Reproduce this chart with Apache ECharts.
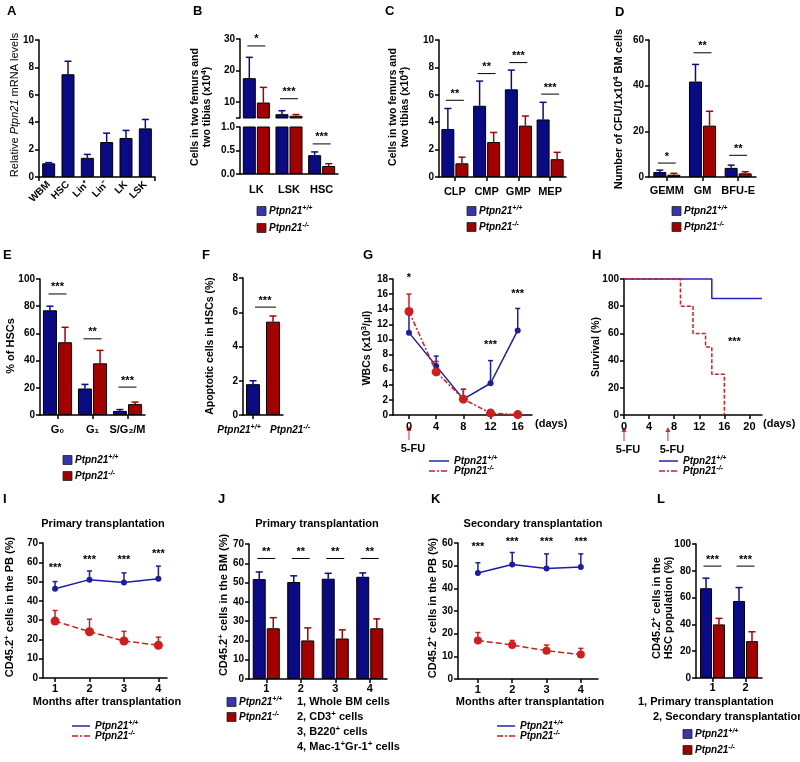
<!DOCTYPE html>
<html>
<head>
<meta charset="utf-8">
<title>Ptpn21 figure</title>
<script src="https://cdn.jsdelivr.net/npm/echarts@6/dist/echarts.min.js"></script>
<style>
  html, body { margin: 0; padding: 0; background: #fff; }
  #main { width: 800px; height: 762px; }
</style>
</head>
<body>
<div id="main"></div>
<script>
// ---------- values ----------
// A
const aCats = ['WBM', 'HSC', 'Lin⁺', 'Lin⁻', 'LK', 'LSK'];
const aMean = [1.0, 7.5, 1.4, 2.55, 2.85, 3.55];
const aSem = [0.05, 0.95, 0.25, 0.65, 0.55, 0.65];
// B (broken axis)
const bCats = ['LK', 'LSK', 'HSC'];
const bWt = [17.6, 6.2, 0.40];
const bWtSem = [6.6, 1.1, 0.07];
const bKo = [9.9, 5.7, 0.17];
const bKoSem = [4.8, 0.4, 0.05];
const bSigY = [27.8, 11.1, 0.64];
const bStars = ['*', '***', '***'];
// C
const cCats = ['CLP', 'CMP', 'GMP', 'MEP'];
const cWt = [3.5, 5.2, 6.4, 4.2];
const cWtSem = [1.5, 1.8, 1.4, 1.25];
const cKo = [1.0, 2.55, 3.75, 1.3];
const cKoSem = [0.45, 0.7, 0.7, 0.5];
const cSigY = [5.6, 7.55, 8.35, 6.05];
const cStars = ['**', '**', '***', '***'];
// D
const dCats = ['GEMM', 'GM', 'BFU-E'];
const dWt = [2.2, 41.8, 4.0];
const dWtSem = [0.8, 7.5, 1.2];
const dKo = [1.0, 22.5, 1.6];
const dKoSem = [0.6, 6.3, 0.7];
const dSigY = [6.1, 54.4, 9.5];
const dStars = ['*', '**', '**'];
// E
const eCats = ['G₀', 'G₁', 'S/G₂/M'];
const eWt = [77, 19.5, 3];
const eWtSem = [3, 3, 1];
const eKo = [53.5, 38, 8];
const eKoSem = [11, 9.5, 1.5];
const eSigY = [89, 56, 20.5];
const eStars = ['***', '**', '***'];
// F
const fCats = ['Ptpn21+/+', 'Ptpn21-/-'];
const fVals = [1.8, 5.45];
const fSem = [0.2, 0.33];
const fSigY = 6.3;
// G
const gDays = [0, 4, 8, 12, 16];
const gWt = [10.9, 6.5, 2.1, 4.2, 11.2];
const gWtSem = [2.5, 1.3, 1.3, 3.0, 2.9];
const gKo = [13.7, 5.7, 2.1, 0.25, 0.05];
const gKoSem = [2.3, 1.4, 1.3, 0.1, 0.05];
const gStarX = [0, 12, 16];
const gStarY = [17.3, 8.4, 15.2];
const gStars = ['*', '***', '***'];
const gFuDays = [0];
// H
const hWtDays = [0, 14, 22];
const hWtSurv = [100, 85.7, 85.7];
const hKoDays = [0, 9, 11, 13, 14, 16];
const hKoSurv = [100, 80, 60, 50, 30, 0];
const hFuDays = [0, 7];
// I
const iMonths = [1, 2, 3, 4];
const iWt = [46.3, 51, 49.5, 51.5];
const iWtSem = [3.7, 4.5, 5, 6.5];
const iKo = [29.5, 24, 19.2, 17];
const iKoSem = [5.5, 6.5, 5, 4.2];
const iStarY = [53.5, 58, 58, 61];
// J
const jCats = ['1', '2', '3', '4'];
const jWt = [51.8, 50.3, 52, 53];
const jWtSem = [3.7, 3.2, 2.8, 2];
const jKo = [26.3, 20, 21, 26.3];
const jKoSem = [5.5, 6.5, 4.5, 4.9];
const jSigY = [62.5, 62.5, 62.5, 62.5];
const jStars = ['**', '**', '**', '**'];
// K
const kMonths = [1, 2, 3, 4];
const kWt = [46.8, 50.5, 48.8, 49.4];
const kWtSem = [4.5, 5.3, 6.4, 5.8];
const kKo = [17, 15, 12.5, 10.8];
const kKoSem = [3.5, 2, 2.5, 2.7];
const kStarY = [55.5, 57.5, 57.5, 57.5];
// L
const lCats = ['1', '2'];
const lWt = [67, 57.5];
const lWtSem = [7.5, 10];
const lKo = [40, 27.5];
const lKoSem = [4.5, 7];
const lSigY = [83.5, 83.5];
const lStars = ['***', '***'];

// ---------- look ----------
const FONT = '"Liberation Sans", Arial, sans-serif';
const BAR_BLUE = '#0a0a85', BAR_RED = '#a50000';
const KEY_BLUE = '#3636aa', KEY_RED = '#a00000';
const LN_BLUE = '#1c1ca4', LN_RED = '#d01e1e';
const ARROW = '#d42a2a';
const WT_TXT = '{i|Ptpn21}{s|+/+}';
const KO_TXT = '{i|Ptpn21}{s|-/-}';

const grid = [], xAxis = [], yAxis = [], series = [], graphic = [];

function mkRich(size, weight) {
  weight = weight || 'bold';
  const sm = Math.round(size * 0.72);
  const base = {fontFamily: FONT, fontWeight: weight, color: '#000', fill: '#000'};
  return {
    n: Object.assign({}, base, {fontSize: size}),
    i: Object.assign({}, base, {fontSize: size, fontStyle: 'italic'}),
    s: Object.assign({}, base, {fontSize: sm, fontStyle: 'italic', padding: [0, 0, Math.round(size * 0.6), 0]}),
    p: Object.assign({}, base, {fontSize: sm, padding: [0, 0, Math.round(size * 0.6), 0]})
  };
}

function tick(extra) { return Object.assign({show: true, length: 4, lineStyle: {color: '#000', width: 1.5}}, extra || {}); }
function axLine() { return {show: true, onZero: false, lineStyle: {color: '#000', width: 1.5}}; }
function lbl(size, extra) { return Object.assign({color: '#000', fontWeight: 'bold', fontSize: size, fontFamily: FONT, margin: 5}, extra || {}); }

function valAxis(min, max, interval, extra) {
  const ax = {type: 'value', min: min, max: max, axisLine: axLine(), axisTick: tick(), axisLabel: lbl(10), splitLine: {show: false}};
  if (interval) ax.interval = interval;
  return Object.assign(ax, extra || {});
}
function catAxis(cats, extra) {
  return Object.assign({type: 'category', data: cats, axisLine: axLine(), axisTick: tick({alignWithLabel: true}),
    axisLabel: lbl(11, {margin: 8, interval: 0}), splitLine: {show: false}}, extra || {});
}
function panel(rect, xa, ya) {
  const gi = grid.length;
  grid.push({left: rect[0], top: rect[1], width: rect[2], height: rect[3]});
  xa.gridIndex = gi; ya.gridIndex = gi;
  xAxis.push(xa); yAxis.push(ya);
  return gi;
}
const idx = arr => arr.map((_, i) => i);

function barStyle(c) { return {color: c, borderColor: '#000', borderWidth: 1}; }
function pairBars(g, wt, ko, bw) {
  series.push({type: 'bar', xAxisIndex: g, yAxisIndex: g, data: wt, barWidth: bw, barGap: '8%', itemStyle: barStyle(BAR_BLUE)});
  series.push({type: 'bar', xAxisIndex: g, yAxisIndex: g, data: ko, barWidth: bw, barGap: '8%', itemStyle: barStyle(BAR_RED)});
  return bw * 1.08 / 2; // distance of each bar centre from the category centre
}

// upper error bars, drawn through the axes of grid g
function errs(g, xs, ys, sems, dx, color, cap) {
  series.push({
    type: 'custom', xAxisIndex: g, yAxisIndex: g, clip: true, silent: true, z: 3,
    data: ys.map((y, i) => [xs[i], y, sems[i]]),
    renderItem: (p, api) => {
      const a = api.coord([api.value(0), api.value(1)]);
      const b = api.coord([api.value(0), api.value(1) + api.value(2)]);
      const x = a[0] + dx;
      const st = {stroke: color, lineWidth: 1.5};
      return {type: 'group', children: [
        {type: 'line', shape: {x1: x, y1: a[1], x2: x, y2: b[1]}, style: st},
        {type: 'line', shape: {x1: x - cap / 2, y1: b[1], x2: x + cap / 2, y2: b[1]}, style: st}
      ]};
    }
  });
}

// significance bar + stars (half = 0 -> stars only)
function sig(g, xs, ys, stars, half) {
  series.push({
    type: 'custom', xAxisIndex: g, yAxisIndex: g, silent: true, z: 4,
    data: ys.map((y, i) => [xs[i], y]),
    renderItem: (p, api) => {
      const c = api.coord([api.value(0), api.value(1)]);
      const kids = [];
      if (half) kids.push({type: 'line', shape: {x1: c[0] - half, y1: c[1], x2: c[0] + half, y2: c[1]}, style: {stroke: '#000', lineWidth: 1}});
      kids.push({type: 'text', x: c[0], y: c[1] - 1, style: {text: stars[p.dataIndex], fill: '#000', fontSize: 11, fontWeight: 'bold', fontFamily: FONT,
        align: 'center', textAlign: 'center', verticalAlign: 'bottom', textVerticalAlign: 'bottom'}});
      return {type: 'group', children: kids};
    }
  });
}

function lineSeries(g, xs, ys, color, dash, size, z) {
  series.push({type: 'line', xAxisIndex: g, yAxisIndex: g, clip: false, z: z,
    data: xs.map((x, i) => [x, ys[i]]), symbol: 'circle', symbolSize: size,
    itemStyle: {color: color}, lineStyle: {color: color, width: 1.5, type: dash}});
}

// ---------- text helpers (titles, keys, notes) ----------
function addText(x, y, str, size, o) {
  o = o || {};
  graphic.push({
    type: 'text', x: x, y: y, rotation: o.rot || 0, silent: true, z: 10,
    style: {
      text: str, fill: '#000', fontSize: size, fontWeight: o.weight || 'bold', fontFamily: FONT,
      align: o.align || 'left', textAlign: o.align || 'left',
      verticalAlign: 'middle', textVerticalAlign: 'middle',
      lineHeight: o.lh || size + 2,
      rich: mkRich(size, o.weight)
    }
  });
}
function vText(x, y, str, size, o) { addText(x, y, str, size, Object.assign({rot: Math.PI / 2, align: 'center'}, o || {})); }
function keyBox(x, y, color, str) {
  graphic.push({type: 'rect', silent: true, shape: {x: x, y: y - 4.5, width: 9, height: 9}, style: {fill: color, stroke: '#222', lineWidth: 0.8}});
  addText(x + 12, y, str, 10);
}
function keyLine(x1, x2, y, color, dash, str) {
  graphic.push({type: 'line', silent: true, shape: {x1: x1, y1: y, x2: x2, y2: y}, style: {stroke: color, lineWidth: 1.5, lineDash: dash}});
  addText(x2 + 5, y, str, 10);
}
function arrow(x, yTop, yBot) {
  graphic.push({type: 'line', silent: true, shape: {x1: x, y1: yBot, x2: x, y2: yTop + 4}, style: {stroke: ARROW, lineWidth: 1}});
  graphic.push({type: 'polygon', silent: true, shape: {points: [[x, yTop], [x - 2.5, yTop + 5], [x + 2.5, yTop + 5]]}, style: {fill: ARROW}});
}

// ---------- A ----------
let g = panel([39, 40, 116, 137],
  catAxis(aCats, {axisLabel: lbl(10, {rotate: 45, margin: 6, interval: 0}), axisTick: tick({alignWithLabel: false, interval: i => i === 3})}),
  valAxis(0, 10, 2));
series.push({type: 'bar', xAxisIndex: g, yAxisIndex: g, data: aMean, barWidth: 13, itemStyle: barStyle(BAR_BLUE)});
errs(g, idx(aMean), aMean, aSem, 0, BAR_BLUE, 7);

// ---------- B : upper segment ----------
g = panel([240, 39, 98, 79], catAxis(bCats, {show: false}),
  valAxis(5, 30, null, {axisLabel: lbl(10, {customValues: [10, 20, 30]}), axisTick: tick({customValues: [5, 10, 20, 30]})}));
let off = pairBars(g, bWt, bKo, 13);
errs(g, idx(bWt), bWt, bWtSem, -off, BAR_BLUE, 7);
errs(g, idx(bKo), bKo, bKoSem, off, BAR_RED, 7);
sig(g, [0, 1], bSigY.slice(0, 2), bStars, 9);
// B : lower segment
g = panel([240, 127, 98, 47], catAxis(bCats, {axisTick: {show: false}, axisLabel: lbl(11, {margin: 10, interval: 0})}),
  valAxis(0, 1, 0.5, {axisLabel: lbl(10, {formatter: v => v.toFixed(1)})}));
off = pairBars(g, bWt, bKo, 13);
errs(g, idx(bWt), bWt, bWtSem, -off, BAR_BLUE, 7);
errs(g, idx(bKo), bKo, bKoSem, off, BAR_RED, 7);
sig(g, [2], bSigY.slice(2), bStars.slice(2), 9);

// ---------- C ----------
g = panel([439, 40, 127, 137], catAxis(cCats, {axisLabel: lbl(11, {margin: 9, interval: 0})}), valAxis(0, 10, 2));
off = pairBars(g, cWt, cKo, 13);
errs(g, idx(cWt), cWt, cWtSem, -off, BAR_BLUE, 7);
errs(g, idx(cKo), cKo, cKoSem, off, BAR_RED, 7);
sig(g, idx(cSigY), cSigY, cStars, 9);

// ---------- D ----------
g = panel([649, 40, 107, 137], catAxis(dCats, {axisLabel: lbl(11, {margin: 8, interval: 0})}), valAxis(0, 60, 20));
off = pairBars(g, dWt, dKo, 13);
errs(g, idx(dWt), dWt, dWtSem, -off, BAR_BLUE, 7);
errs(g, idx(dKo), dKo, dKoSem, off, BAR_RED, 7);
sig(g, idx(dSigY), dSigY, dStars, 9);

// ---------- E ----------
g = panel([40, 279, 105, 136], catAxis(eCats, {axisLabel: lbl(11, {margin: 9, interval: 0})}), valAxis(0, 100, 20));
off = pairBars(g, eWt, eKo, 14);
errs(g, idx(eWt), eWt, eWtSem, -off, BAR_BLUE, 7);
errs(g, idx(eKo), eKo, eKoSem, off, BAR_RED, 7);
sig(g, idx(eSigY), eSigY, eStars, 9);

// ---------- F ----------
g = panel([243, 278, 40, 137], catAxis(fCats, {axisLabel: {show: false}}), valAxis(0, 8, 2));
series.push({type: 'bar', xAxisIndex: g, yAxisIndex: g, barWidth: 14,
  data: fVals.map((v, i) => ({value: v, itemStyle: barStyle(i ? BAR_RED : BAR_BLUE)}))});
errs(g, [0], fVals.slice(0, 1), fSem.slice(0, 1), 0, BAR_BLUE, 7);
errs(g, [1], fVals.slice(1), fSem.slice(1), 0, BAR_RED, 7);
series.push({type: 'custom', xAxisIndex: g, yAxisIndex: g, silent: true, z: 4, data: [[0, fSigY]],
  renderItem: (p, api) => {
    const a = api.coord([0, api.value(1)]), b = api.coord([1, api.value(1)]);
    return {type: 'group', children: [
      {type: 'line', shape: {x1: a[0] + 2, y1: a[1], x2: b[0] + 3, y2: b[1]}, style: {stroke: '#000', lineWidth: 1}},
      {type: 'text', x: (a[0] + b[0]) / 2 + 2, y: a[1] - 1, style: {text: '***', fill: '#000', fontSize: 11, fontWeight: 'bold', fontFamily: FONT,
        align: 'center', textAlign: 'center', verticalAlign: 'bottom', textVerticalAlign: 'bottom'}}
    ]};
  }});

// ---------- G ----------
const gTicks = [0, 4, 8, 12, 16];
g = panel([393, 279, 139, 136],
  valAxis(-2.35, 18.1, null, {axisLabel: lbl(11, {customValues: gTicks, margin: 6}), axisTick: tick({customValues: gTicks})}),
  valAxis(0, 18, 2));
errs(g, gDays, gWt, gWtSem, 0, LN_BLUE, 5);
errs(g, gDays, gKo, gKoSem, 0, LN_RED, 5);
lineSeries(g, gDays, gWt, LN_BLUE, 'solid', 6, 5);
lineSeries(g, gDays, gKo, LN_RED, [5, 2, 2, 2], 9, 6);
sig(g, gStarX, gStarY, gStars, 0);
const gG = g;

// ---------- H ----------
const hTicks = [0, 4, 8, 12, 16, 20];
g = panel([624, 279, 138, 136],
  valAxis(0, 22, null, {axisLabel: lbl(11, {customValues: hTicks, margin: 6}), axisTick: tick({customValues: hTicks})}),
  valAxis(0, 100, 20));
series.push({type: 'line', xAxisIndex: g, yAxisIndex: g, step: 'end', symbol: 'none', clip: false,
  data: hWtDays.map((d, i) => [d, hWtSurv[i]]), lineStyle: {color: '#2323c8', width: 1.5}});
series.push({type: 'line', xAxisIndex: g, yAxisIndex: g, step: 'end', symbol: 'none', clip: false,
  data: hKoDays.map((d, i) => [d, hKoSurv[i]]), lineStyle: {color: LN_RED, width: 1.5, type: [4, 2]}});
sig(g, [17.6], [49], ['***'], 0);
const gH = g;

// ---------- I ----------
const mTicks = [1, 2, 3, 4];
g = panel([43, 543, 124, 135],
  valAxis(0.65, 4.25, null, {axisLabel: lbl(11, {customValues: mTicks, margin: 5}), axisTick: tick({customValues: mTicks})}),
  valAxis(0, 70, 10));
errs(g, iMonths, iWt, iWtSem, 0, LN_BLUE, 5);
errs(g, iMonths, iKo, iKoSem, 0, LN_RED, 5);
lineSeries(g, iMonths, iWt, LN_BLUE, 'solid', 6, 5);
lineSeries(g, iMonths, iKo, LN_RED, [6, 3], 9, 6);
sig(g, iMonths, iStarY, ['***', '***', '***', '***'], 0);

// ---------- J ----------
g = panel([249, 544, 138, 135], catAxis(jCats, {axisLabel: lbl(11, {margin: 4, interval: 0})}), valAxis(0, 70, 10));
off = pairBars(g, jWt, jKo, 13);
errs(g, idx(jWt), jWt, jWtSem, -off, BAR_BLUE, 7);
errs(g, idx(jKo), jKo, jKoSem, off, BAR_RED, 7);
sig(g, idx(jSigY), jSigY, jStars, 9);

// ---------- K ----------
g = panel([458, 543, 140, 136],
  valAxis(0.42, 4.5, null, {axisLabel: lbl(11, {customValues: mTicks, margin: 5}), axisTick: tick({customValues: mTicks})}),
  valAxis(0, 60, 10));
errs(g, kMonths, kWt, kWtSem, 0, LN_BLUE, 5);
errs(g, kMonths, kKo, kKoSem, 0, LN_RED, 5);
lineSeries(g, kMonths, kWt, LN_BLUE, 'solid', 6, 5);
lineSeries(g, kMonths, kKo, LN_RED, [6, 3], 8, 6);
sig(g, kMonths, kStarY, ['***', '***', '***', '***'], 0);

// ---------- L ----------
g = panel([696, 544, 66, 134], catAxis(lCats, {axisLabel: lbl(11, {margin: 4, interval: 0})}), valAxis(0, 100, 20));
off = pairBars(g, lWt, lKo, 12);
errs(g, idx(lWt), lWt, lWtSem, -off, BAR_BLUE, 7);
errs(g, idx(lKo), lKo, lKoSem, off, BAR_RED, 7);
sig(g, idx(lSigY), lSigY, lStars, 9);

// ---------- chart ----------
const chart = echarts.init(document.getElementById('main'));
chart.setOption({animation: false, backgroundColor: '#fff', grid: grid, xAxis: xAxis, yAxis: yAxis, series: series});

// panel letters
[['A', 7, 11], ['B', 193, 11], ['C', 385, 11], ['D', 615, 12], ['E', 3, 255], ['F', 202, 255],
 ['G', 363, 255], ['H', 592, 255], ['I', 3, 499], ['J', 218, 499], ['K', 431, 499], ['L', 657, 499]]
  .forEach(t => addText(t[1], t[2], t[0], 13));

// axis titles
vText(15, 105, '{n|Relative }{i|Ptpn21}{n| mRNA levels}', 11, {weight: 'normal'});
vText(201, 107, '{n|Cells in two femurs and}\n{n|two tibias (x10}{p|4}{n|)}', 10.5, {lh: 12});
vText(399, 107, '{n|Cells in two femurs and}\n{n|two tibias (x10}{p|4}{n|)}', 10.5, {lh: 12});
vText(619, 109, '{n|Number of CFU/1x10}{p|4}{n| BM cells}', 11);
vText(11, 346, '{n|% of HSCs}', 11);
vText(210, 346, '{n|Apoptotic cells in HSCs (%)}', 10.5);
vText(367, 348, '{n|WBCs (x10}{p|3}{n|/µl)}', 10.5);
vText(596, 347, '{n|Survival (%)}', 10.5);
vText(10, 607, '{n|CD45.2}{p|+}{n| cells in the PB (%)}', 11);
vText(224, 605, '{n|CD45.2}{p|+}{n| cells in the BM (%)}', 11);
vText(433, 608, '{n|CD45.2}{p|+}{n| cells in the PB (%)}', 11);
vText(663, 608, '{n|CD45.2}{p|+}{n| cells in the}\n{n|HSC population (%)}', 11, {lh: 12});

// panel titles and x titles
addText(103, 524, 'Primary transplantation', 11, {align: 'center'});
addText(317, 524, 'Primary transplantation', 11, {align: 'center'});
addText(533, 524, 'Secondary transplantation', 11, {align: 'center'});
addText(107, 702, 'Months after transplantation', 11, {align: 'center'});
addText(530, 702, 'Months after transplantation', 11, {align: 'center'});
addText(535, 424, '(days)', 11);
addText(763, 424, '(days)', 11);

// F category labels
addText(239, 430, '{i|Ptpn21}{s|+/+}', 10, {align: 'center'});
addText(290, 430, '{i|Ptpn21}{s|-/-}', 10, {align: 'center'});

// keys
[[257, 211], [467, 211], [672, 211], [63, 460], [227, 702], [683, 734]].forEach(k => {
  keyBox(k[0], k[1], KEY_BLUE, WT_TXT);
});
[[257, 228], [467, 227], [672, 227], [63, 476], [227, 717], [683, 750]].forEach(k => {
  keyBox(k[0], k[1], KEY_RED, KO_TXT);
});
[[429, 449, 461], [659, 678, 461], [72, 90, 726], [497, 515, 726]].forEach(k => {
  keyLine(k[0], k[1], k[2], '#2323b0', null, WT_TXT);
  keyLine(k[0], k[1], k[2] + 10, LN_RED, [6, 2, 2, 2], KO_TXT);
});

// notes
addText(297, 702, '1, Whole BM cells', 11);
addText(297, 717, '{n|2, CD3}{p|+}{n| cells}', 11);
addText(297, 732, '{n|3, B220}{p|+}{n| cells}', 11);
addText(297, 747, '{n|4, Mac-1}{p|+}{n|Gr-1}{p|+}{n| cells}', 11);
addText(638, 702, '1, Primary transplantation', 11);
addText(653, 717, '2, Secondary transplantation', 11);

// 5-FU arrows at the dosing days
gFuDays.forEach(d => {
  const x = chart.convertToPixel({xAxisIndex: gG}, d);
  arrow(x, 426, 440);
  addText(x + 4, 449, '5-FU', 11, {align: 'center'});
});
hFuDays.forEach(d => {
  const x = chart.convertToPixel({xAxisIndex: gH}, d);
  arrow(x, 427, 441);
  addText(x + 4, 450, '5-FU', 11, {align: 'center'});
});

chart.setOption({graphic: {elements: graphic}});
</script>
</body>
</html>
